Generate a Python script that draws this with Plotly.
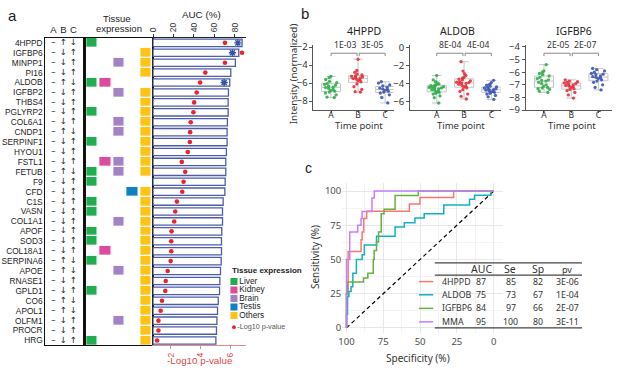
import numpy as np
import plotly.graph_objects as go

W, H = 617, 373
def px(x): return x / W
def py(y): return 1 - y / H
def xdom(a, b): return [px(a), px(b)]
def ydom(t, b): return [py(b), py(t)]

FA = "Arial, Liberation Sans, sans-serif"
FB = "Noto Sans, Open Sans, sans-serif"

# ---------------- panel a data ----------------
genes = ["4HPPD", "IGFBP6", "MINPP1", "PI16", "ALDOB", "IGFBP2", "THBS4", "PGLYRP2",
         "COL6A1", "CNDP1", "SERPINF1", "HYOU1", "FSTL1", "FETUB", "F9", "CFD", "C1S",
         "VASN", "COL1A1", "APOF", "SOD3", "COL18A1", "SERPINA6", "APOE", "RNASE1",
         "GPLD1", "CO6", "APOL1", "OLFM1", "PROCR", "HRG"]
auc_pct = [87.1, 83.9, 80.6, 76.1, 75.1, 73.8, 73.5, 73.5, 72.8, 72.5, 72.5, 71.8, 71.2,
           71.2, 70.6, 70.3, 68.6, 68.0, 68.0, 67.3, 67.0, 67.0, 66.7, 66.0, 65.4, 65.1,
           63.8, 63.1, 62.5, 62.1, 61.5]
neg_log10_p = [5.63, 6.78, 5.63, 4.31, 3.96, 3.73, 3.56, 3.51, 3.33, 3.29, 3.27, 3.13, 2.73,
               2.96, 2.85, 2.76, 2.40, 2.29, 2.22, 2.04, 2.02, 2.02, 1.98, 1.78, 1.65, 1.62,
               1.40, 1.31, 1.16, 1.16, 1.07]
U, D = "↑", "↓"
dir_a = ["–"] * len(genes)
dir_b = [U, D, D, D, U, D, D, D, D, U, D, D, D, U, D, D, D, D, D, D, D, D, U, U, D, D, U, U, D, D, D]
dir_c = [D, U, U, U, D, U, U, U, U, D, U, U, U, D, U, U, U, U, U, U, U, U, D, D, U, U, D, D, U, U, U]
tissue_codes = ["L", "O", "BO", "O", "LK", "BO", "O", "LO", "BO", "BO", "LO", "O", "KBO", "LBO",
                "L", "TO", "LO", "LO", "BO", "LO", "LO", "KO", "LO", "BO", "O", "LO", "O", "O",
                "BO", "O", "LO"]
tissue_names = ["Liver", "Kidney", "Brain", "Testis", "Others"]
tissue_letters = ["L", "K", "B", "T", "O"]
tissue_colors = ["#1fad4f", "#dc4b9d", "#a383c5", "#0f80c2", "#fdc416"]
star_genes = ["4HPPD", "IGFBP6", "ALDOB"]
star_auc = [83.0, 77.7, 69.6]

# ---------------- panel b data ----------------
box_titles = ["4HPPD", "ALDOB", "IGFBP6"]
box_groups = ["A", "B", "C"]
box_pvals = [["1E-03", "3E-05"], ["8E-04", "4E-04"], ["2E-05", "2E-07"]]
hppd_A = [-5.25, -5.4, -5.6, -5.8, -5.95, -6.05, -6.15, -6.25, -6.35, -6.45, -6.5, -6.6, -6.7,
          -6.8, -6.9, -7.0, -7.1, -7.3, -7.55, -7.6]
hppd_B = [-3.35, -4.6, -4.8, -5.0, -5.1, -5.2, -5.25, -5.3, -5.4, -5.45, -5.5, -5.55, -5.65,
          -5.75, -5.85, -6.1, -6.4, -6.7, -6.95, -7.0]
hppd_C = [-5.85, -6.0, -6.2, -6.3, -6.45, -6.55, -6.65, -6.7, -6.8, -6.9, -7.0, -7.1, -7.3,
          -7.6, -8.2]
aldob_A = [-3.1, -3.6, -3.8, -3.95, -4.05, -4.1, -4.2, -4.25, -4.3, -4.35, -4.4, -4.45, -4.5,
           -4.55, -4.6, -4.7, -4.75, -4.85, -4.95, -5.0, -5.1, -5.2, -5.4, -5.6, -6.2]
aldob_B = [-1.55, -2.6, -2.9, -3.1, -3.3, -3.4, -3.5, -3.6, -3.7, -3.8, -3.85, -3.9, -3.95,
           -4.0, -4.1, -4.2, -4.3, -4.4, -4.5, -4.7, -4.9, -5.2, -5.45, -5.75]
aldob_C = [-3.65, -3.9, -4.1, -4.2, -4.3, -4.4, -4.45, -4.5, -4.6, -4.65, -4.7, -4.75, -4.8,
           -4.9, -4.95, -5.0, -5.1, -5.2, -5.35, -5.5, -5.8]
igfbp6_A = [-5.4, -5.9, -6.0, -6.1, -6.2, -6.3, -6.4, -6.5, -6.6, -6.65, -6.7, -6.8, -6.9,
            -7.0, -7.1, -7.2, -7.25, -7.3, -7.35, -7.5, -7.6]
igfbp6_B = [-6.6, -6.7, -6.75, -6.8, -6.85, -6.9, -6.95, -7.0, -7.05, -7.1, -7.15, -7.2, -7.3,
            -7.35, -7.45, -7.6, -7.8, -8.05]
igfbp6_C = [-5.7, -5.8, -5.9, -6.0, -6.1, -6.15, -6.2, -6.3, -6.35, -6.4, -6.45, -6.5, -6.6,
            -6.7, -6.8, -7.0, -7.2, -7.4]
box_data = [[hppd_A, hppd_B, hppd_C], [aldob_A, aldob_B, aldob_C], [igfbp6_A, igfbp6_B, igfbp6_C]]
group_colors = ["#2fae4a", "#e4303c", "#3b57b2"]

# ---------------- panel c data ----------------
roc_names = ["4HPPD", "ALDOB", "IGFBP6", "MMA"]
roc_colors = ["#F8766D", "#10B3BE", "#64B23E", "#C77CFF"]
roc_spec = [
    [100, 100, 98.9, 90.1, 89.4, 88.3, 86.3, 57.3, 50.1, 27.2, 0],
    [100, 100, 99.3, 98.4, 96.9, 95.7, 93.3, 89.4, 87.9, 79.6, 67, 60.7, 53.5, 47.2, 33.9, 16.4, 13, 1.8, 0],
    [100, 100, 99.5, 88.5, 85.5, 81.8, 81.2, 79.6, 78.2, 76.4, 74.5, 67, 51.2, 0],
    [100, 100, 97.8, 92.4, 90.1, 89.4, 82.7, 81.1, 0],
]
roc_sens = [
    [0, 25, 55.8, 64.5, 70, 80, 85.3, 90.5, 95.3, 100, 100],
    [0, 10, 23, 26.5, 30, 40, 50, 53.4, 60.5, 66.9, 73.7, 76.8, 80.4, 83.5, 89.8, 94, 97, 100, 100],
    [0, 25, 33.5, 36.5, 40, 50, 56.5, 63, 70, 83.5, 86.7, 96.7, 100, 100],
    [0, 50, 70, 75, 80, 85, 95, 100, 100],
]
tab_auc = ["87", "75", "84", "95"]
tab_se = ["85", "73", "97", "100"]
tab_sp = ["82", "67", "66", "80"]
tab_pv = ["3E-06", "1E-04", "2E-07", "3E-11"]

fig = go.Figure()

# ---- panel a: A/B/C direction columns
for ci, col in enumerate([dir_a, dir_b, dir_c]):
    fig.add_trace(go.Scatter(x=[ci] * len(genes), y=genes, text=col, mode="text",
                             textfont=dict(size=8.5, family="DejaVu Sans", color="#222"),
                             xaxis="x", yaxis="y", hoverinfo="skip"))

# ---- tissue heatmap
z = [[(j + 1) if t in tissue_codes[i] else None for j, t in enumerate(tissue_letters)]
     for i in range(len(genes))]
cs = []
for k, c in enumerate(tissue_colors):
    cs.append([k / 5, c]); cs.append([(k + 1) / 5, c])
fig.add_trace(go.Heatmap(z=z, x=tissue_names, y=genes, xaxis="x2", yaxis="y2", colorscale=cs,
                         zmin=0.5, zmax=5.5, showscale=False, xgap=2.8, ygap=1.3, hoverinfo="skip"))

# ---- AUC bars
fig.add_trace(go.Bar(x=auc_pct, y=genes, orientation="h", xaxis="x3", yaxis="y3", width=0.74,
                     marker=dict(color="white", line=dict(color="#4b5ca9", width=1.3))))
fig.add_trace(go.Scatter(x=neg_log10_p, y=genes, mode="markers", xaxis="x4", yaxis="y3",
                         marker=dict(color="#e8252b", size=4.6)))
fig.add_trace(go.Scatter(x=star_auc, y=star_genes, mode="markers", xaxis="x3", yaxis="y3",
                         marker=dict(symbol="asterisk-open", size=6, color="#3450a8",
                                     line=dict(color="#3450a8", width=1.4))))

# ---- legend for panel a
fig.add_trace(go.Scatter(x=[0.09] * 5, y=[0, 1, 2, 3, 4], mode="markers+text", text=tissue_names,
                         textposition="middle right", xaxis="x5", yaxis="y5",
                         textfont=dict(size=8.3, family=FA, color="#222"),
                         marker=dict(symbol="square", size=7, color=tissue_colors)))
fig.add_trace(go.Scatter(x=[0.09], y=[5.37], mode="markers+text", text=["-Log10 p-value"],
                         textposition="middle right", xaxis="x5", yaxis="y5",
                         textfont=dict(size=7.2, family=FA, color="#555"),
                         marker=dict(size=3.8, color="#e8252b")))

# ---- panel b boxplots
for k in range(3):
    xa, ya = f"x{6 + k}", f"y{6 + k}"
    groups = box_data[k]
    fig.add_trace(go.Box(x=[0, 1, 2],
                         q1=[float(np.percentile(v, 25)) for v in groups],
                         median=[float(np.percentile(v, 50)) for v in groups],
                         q3=[float(np.percentile(v, 75)) for v in groups],
                         lowerfence=[min(v) for v in groups],
                         upperfence=[max(v) for v in groups],
                         width=0.7, line=dict(color="#c6c6c6", width=1),
                         fillcolor="rgba(0,0,0,0)", xaxis=xa, yaxis=ya, hoverinfo="skip"))
    for g in range(3):
        v = groups[g]
        fig.add_trace(go.Box(x=[g] * len(v), y=v, boxpoints="all", jitter=0.8, pointpos=0,
                             width=0.7, line=dict(color="rgba(0,0,0,0)"),
                             fillcolor="rgba(0,0,0,0)",
                             marker=dict(color=group_colors[g], size=3.3, opacity=0.9),
                             xaxis=xa, yaxis=ya, hoverinfo="skip"))

y_ranges = [[-9, -1.82], [-7, 0.28], [-9, -3.88]]
annotations = []
for k in range(3):
    lo, hi = y_ranges[k]
    span = hi - lo
    yb = hi - 0.12 * span
    d = 0.045 * span
    xa, ya = f"x{6 + k}", f"y{6 + k}"
    for (x0, x1), lab, xc in zip([(0, 0.96), (1.04, 2)], box_pvals[k], [0.5, 1.5]):
        fig.add_trace(go.Scatter(x=[x0, x0, x1, x1], y=[yb - d, yb, yb, yb - d], mode="lines",
                                 line=dict(color="#888", width=1), xaxis=xa, yaxis=ya,
                                 hoverinfo="skip"))
        annotations.append(dict(text=lab, x=xc, y=yb, xref=xa, yref=ya, showarrow=False,
                                yanchor="bottom", yshift=0,
                                font=dict(size=8.6, family=FB, color="#333")))

# ---- panel c ROC
fig.add_trace(go.Scatter(x=[100, 0], y=[0, 100], mode="lines", xaxis="x9", yaxis="y9",
                         line=dict(color="black", width=1.2, dash="4px,3px"), hoverinfo="skip"))
for name, col, sx, sy in zip(roc_names, roc_colors, roc_spec, roc_sens):
    fig.add_trace(go.Scatter(x=sx, y=sy, mode="lines", line=dict(color=col, width=1.5, shape="hv"),
                             xaxis="x9", yaxis="y9", name=name))

# ---------------- axes ----------------
gene_y = dict(type="category", categoryorder="array", categoryarray=genes, range=[30.5, -0.5],
              domain=ydom(33.9, 350.8), showgrid=False, zeroline=False, ticks="",
              tickmode="array", tickvals=genes, ticktext=genes)
box_line = dict(showline=True, mirror=True, linecolor="#111", linewidth=1.2)

layout = dict(
    width=W, height=H, margin=dict(l=0, r=0, t=0, b=0, pad=0),
    paper_bgcolor="white", plot_bgcolor="rgba(0,0,0,0)", showlegend=False,
    font=dict(family=FA, color="#222"), boxmode="overlay",
    xaxis=dict(domain=xdom(40.7, 81), range=[-0.8, 3.19], side="top", tickmode="array",
               tickvals=[0, 1, 2], ticktext=["A", "B", "C"], tickfont=dict(size=9.5),
               ticks="", showgrid=False, zeroline=False, anchor="y", **box_line),
    yaxis=dict(anchor="x", tickfont=dict(size=8.3, color="#222"), **gene_y, **box_line),
    xaxis2=dict(domain=xdom(81, 148.7), range=[-0.5, 4.5], type="category",
                categoryorder="array", categoryarray=tissue_names, showticklabels=False,
                ticks="", showgrid=False, zeroline=False, anchor="y2", **box_line),
    yaxis2=dict(anchor="x2", showticklabels=False, **gene_y, showline=True, mirror=True,
                linecolor="#111", linewidth=1.6),
    xaxis3=dict(domain=xdom(148.7, 243), range=[-0.5, 91], side="top", anchor="y3",
                tickmode="array", tickvals=[0, 20, 40, 60, 80], tickangle=-90, ticks="outside",
                ticklen=3, tickcolor="#333", showline=True, linecolor="#222", linewidth=1,
                tickfont=dict(size=8.5, color="#333"), showgrid=False, zeroline=False),
    yaxis3=dict(anchor="x3", visible=False, **gene_y),
    xaxis4=dict(overlaying="x3", anchor="y3", side="bottom", range=[0.76, 7.047],
                tickmode="array", tickvals=[2, 4, 6], tickangle=-90, ticks="outside", ticklen=3,
                tickcolor="#e38a8c", showline=True, linecolor="#e38a8c", linewidth=1,
                tickfont=dict(size=8.5, color="#e0474c"), showgrid=False, zeroline=False),
    xaxis5=dict(domain=xdom(224, 300), range=[0, 1], visible=False, anchor="y5"),
    yaxis5=dict(domain=ydom(280, 337), range=[5.94, -0.571], visible=False, anchor="x5"),
)

bx_dom = [xdom(311, 391.7), xdom(408.3, 499.7), xdom(525, 611.7)]
bx_rng = [[-0.65, 2.31], [-0.98, 2.34], [-0.67, 2.49]]
by_ticks = [[-8, -6, -4, -2], [-6, -4, -2, 0], [-9, -8, -7, -6, -5, -4]]
for k in range(3):
    n = 6 + k
    layout[f"xaxis{n}"] = dict(domain=bx_dom[k], range=bx_rng[k], anchor=f"y{n}",
                               tickmode="array", tickvals=[0, 1, 2], ticktext=box_groups,
                               ticks="outside", ticklen=2, tickcolor="#555", showline=True,
                               linecolor="#555", linewidth=1, showgrid=False, zeroline=False,
                               ticklabelstandoff=-5,
                               tickfont=dict(size=8.5, family=FB, color="#333"))
    layout[f"yaxis{n}"] = dict(domain=ydom(41.7, 108.3), range=y_ranges[k], anchor=f"x{n}",
                               tickmode="array", tickvals=by_ticks[k], ticks="outside",
                               ticklen=3, tickcolor="#555", showline=True, linecolor="#555",
                               linewidth=1, showgrid=False, zeroline=False,
                               tickfont=dict(size=9.5, family=FB, color="#333"))

layout["xaxis9"] = dict(domain=xdom(340, 501.7), range=[102.9, -6.1], anchor="y9",
                        tickmode="array", tickvals=[0, 25, 50, 75, 100], ticks="",
                        showgrid=True, gridcolor="#e8e8e8", gridwidth=1, zeroline=False,
                        showline=False, tickfont=dict(size=9.5, family=FB, color="#4d4d4d"),
                        ticklabelstandoff=1,
                        minor=dict(tickvals=[12.5, 37.5, 62.5, 87.5], showgrid=True,
                                   gridcolor="#f3f3f3", gridwidth=0.6))
layout["yaxis9"] = dict(domain=ydom(183.3, 338.3), range=[-4, 106], anchor="x9",
                        tickmode="array", tickvals=[0, 25, 50, 75, 100], ticks="",
                        showgrid=True, gridcolor="#e8e8e8", gridwidth=1, zeroline=False,
                        showline=False, tickfont=dict(size=9.5, family=FB, color="#4d4d4d"),
                        minor=dict(tickvals=[12.5, 37.5, 62.5, 87.5], showgrid=True,
                                   gridcolor="#f3f3f3", gridwidth=0.6))

def ann(text, x, y, size, color="#222", xanchor="center", yanchor="middle", family=FA, angle=0):
    return dict(text=text, x=px(x), y=py(y), xref="paper", yref="paper", showarrow=False,
                font=dict(size=size, color=color, family=family), xanchor=xanchor,
                yanchor=yanchor, textangle=angle)

annotations += [
    ann("a", 8, 11, 15), ann("b", 302, 9, 15), ann("c", 306, 168, 14),
    ann("Tissue", 113, 13.5, 9.5), ann("expression", 115, 24.3, 9.5),
    ann("AUC (%)", 198, 10, 9.8),
    ann("-Log10 p-value", 196.7, 366.3, 9.8, color="#e0474c"),
    ann("<b>Tissue expression</b>", 226.5, 274, 8, xanchor="left"),
    ann("Intensity (normalized)", 291.7, 71, 9.8, family=FB, angle=-90, color="#333"),
    ann("Specificity (%)", 416.7, 364, 10, family=FB, color="#333"),
    ann("Sensitivity (%)", 313.3, 260, 10, family=FB, angle=-90, color="#333"),
]
for t, xc in zip(box_titles, [361.5, 456.7, 573.3]):
    annotations.append(ann(t, xc, 26.7, 10.5, family=FB, color="#222"))
for xc in [356.5, 460, 571.7]:
    annotations.append(ann("Time point", xc, 124, 9.5, family=FB, color="#333"))

# table in panel c
for t, xc, sz in zip(["AUC", "Se", "Sp", "pv"], [480, 509.5, 537, 566.5], [10.5, 10.5, 10.5, 9]):
    annotations.append(ann(t, xc, 272.5, sz, family=FB, color="#333"))
row_y = [285, 298.6, 312.6, 326.5]
shapes = []
for i in range(4):
    annotations.append(ann(roc_names[i], 438.3, row_y[i], 8.8, family=FB, color="#333", xanchor="left"))
    for vals, xc in zip([tab_auc, tab_se, tab_sp, tab_pv], [480, 510, 537, 566.7]):
        annotations.append(ann(vals[i], xc, row_y[i], 8.8, family=FB, color="#333"))
    shapes.append(dict(type="line", xref="paper", yref="paper", x0=px(417.3), x1=px(431.7),
                       y0=py(row_y[i]), y1=py(row_y[i]), line=dict(color=roc_colors[i], width=1.5)))
for yy in [265.7, 278.3, 332.7]:
    shapes.append(dict(type="line", xref="paper", yref="paper", x0=px(433.3), x1=px(581.7),
                       y0=py(yy), y1=py(yy), line=dict(color="#444", width=1.3)))

layout["annotations"] = annotations
layout["shapes"] = shapes
fig.update_layout(**layout)
fig.write_html("out.html", config={"displayModeBar": False},
               post_script="document.body.style.margin='0px';document.body.style.padding='0px';document.body.style.overflow='hidden';")
